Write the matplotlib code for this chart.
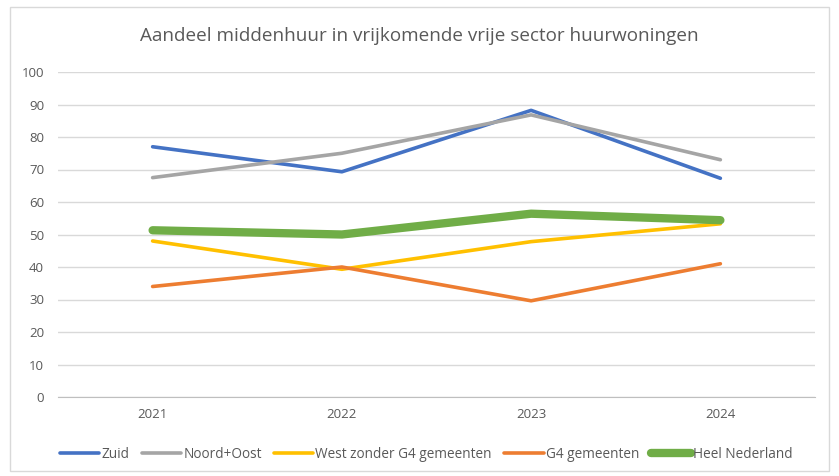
#!/usr/bin/env python3
"""Aandeel middenhuur in vrijkomende vrije sector huurwoningen."""

import matplotlib.pyplot as plt
from matplotlib.patches import Rectangle
import numpy as np

years = ["2021", "2022", "2023", "2024"]
zuid = [77, 69.3, 88.2, 67.3]
noord_oost = [67.5, 75, 86.8, 73]
west_zonder_g4 = [48, 39.3, 47.8, 53.3]
g4_gemeenten = [34, 40, 29.6, 41]
heel_nederland = [51.3, 50, 56.4, 54.4]

series = [
    ("Zuid", zuid, "#4472C4", 2.6),
    ("Noord+Oost", noord_oost, "#A5A5A5", 2.6),
    ("West zonder G4 gemeenten", west_zonder_g4, "#FFC000", 2.6),
    ("G4 gemeenten", g4_gemeenten, "#ED7D31", 2.6),
    ("Heel Nederland", heel_nederland, "#70AD47", 6.0),
]

plt.rcParams["font.family"] = ["Open Sans", "DejaVu Sans"]

fig = plt.figure(figsize=(8.39, 4.76), dpi=100)
fig.patches.append(Rectangle((0.012, 0.01), 0.976, 0.975, transform=fig.transFigure,
                             fill=False, edgecolor="#D9D9D9", linewidth=1))
ax = fig.add_axes([58 / 839, 1 - 397 / 476, (815 - 58) / 839, (397 - 72) / 476])

x = np.arange(len(years))
for name, vals, color, lw in series:
    ax.plot(x, vals, color=color, linewidth=lw, label=name, solid_capstyle="round")

ax.set_xlim(-0.5, len(years) - 0.5)
ax.set_ylim(0, 100)
ax.set_yticks(np.arange(0, 101, 10))
ax.set_xticks(x)
ax.set_xticklabels(years)
ax.grid(True, axis="y", color="#D9D9D9", linewidth=1)
ax.set_axisbelow(True)
for side in ["top", "right", "left"]:
    ax.spines[side].set_visible(False)
ax.spines["bottom"].set_color("#BFBFBF")
ax.tick_params(axis="both", length=0, colors="#595959", labelsize=9.5)
ax.tick_params(axis="y", pad=10)
ax.tick_params(axis="x", pad=8)

fig.text(0.5, 0.925, "Aandeel middenhuur in vrijkomende vrije sector huurwoningen",
         ha="center", va="center", fontsize=13.6, color="#595959")

fig.legend(loc="center", bbox_to_anchor=(0.508, 0.045), ncol=5, frameon=False,
           fontsize=9.8, labelcolor="#595959", handlelength=2.9, handletextpad=0.15,
           columnspacing=0.9)

plt.savefig("out.png", dpi=100)
